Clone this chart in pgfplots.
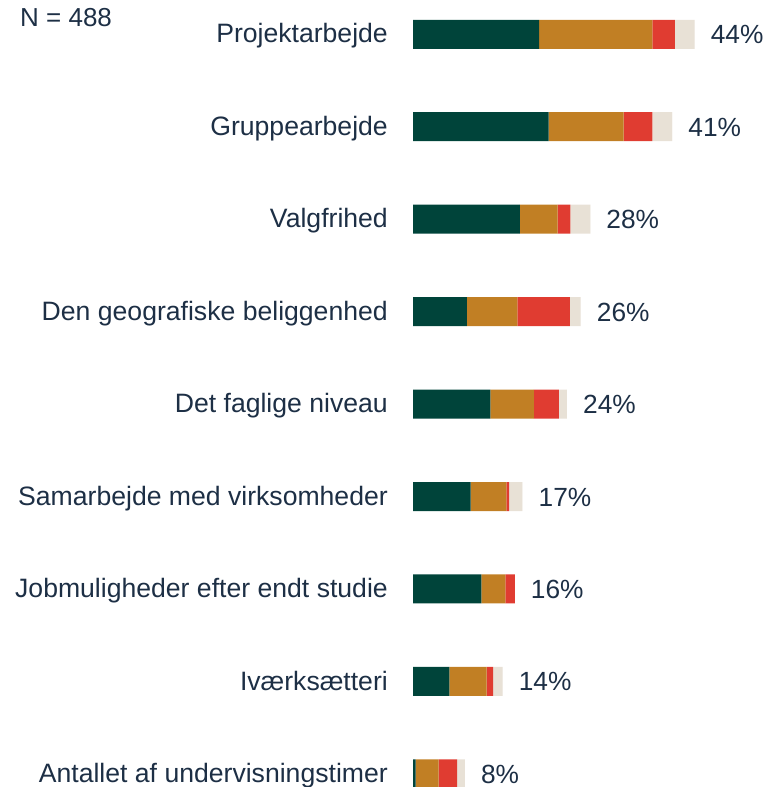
\documentclass[border=0pt]{standalone}
\usepackage{pgfplots}
\pgfplotsset{compat=1.18}
\usepackage{fontspec}
\setmainfont{Liberation Sans}
\definecolor{cgreen}{HTML}{00443A}
\definecolor{corange}{HTML}{C17F24}
\definecolor{cred}{HTML}{E03C31}
\definecolor{cbeige}{HTML}{E8E1D6}
\definecolor{ctext}{HTML}{1D2F45}
\begin{document}
\begin{tikzpicture}[x=1pt,y=1pt]
\path[use as bounding box] (0,0) rectangle (767,787);
\node[anchor=north west, inner sep=0pt, font=\fontsize{26}{31}\selectfont, text=ctext] at (20,778.5) {N = 488};
\begin{axis}[
  at={(413pt,0pt)}, anchor=south west,
  scale only axis, width=354pt, height=787pt,
  xmin=0, xmax=55.3125,
  ymin=-0.371, ymax=8.142,
  y dir=reverse,
  xbar stacked, bar width=29pt,
  axis line style={draw=none},
  major tick length=0pt,
  xtick=\empty,
  ytick={0,1,2,3,4,5,6,7,8},
  yticklabels={Projektarbejde,Gruppearbejde,Valgfrihed,Den geografiske beliggenhed,Det faglige niveau,Samarbejde med virksomheder,Jobmuligheder efter endt studie,Iværksætteri,Antallet af undervisningstimer},
  yticklabel style={font=\fontsize{26.6}{31}\selectfont, text=ctext, inner sep=0pt, anchor=base east, xshift=-25pt, yshift=-8.6pt},
  every axis plot/.append style={draw=none},
]
\addplot[fill=cgreen] coordinates {(19.7,0) (21.2,1) (16.7,2) (8.4,3) (12.1,4) (9.0,5) (10.7,6) (5.7,7) (0.4,8)};
\addplot[fill=corange] coordinates {(17.7,0) (11.7,1) (5.9,2) (7.9,3) (6.8,4) (5.6,5) (3.75,6) (5.8,7) (3.6,8)};
\addplot[fill=cred] coordinates {(3.5,0) (4.5,1) (2.0,2) (8.2,3) (3.9,4) (0.4,5) (1.45,6) (1.0,7) (2.9,8)};
\addplot[fill=cbeige] coordinates {(3.1,0) (3.1,1) (3.1,2) (1.7,3) (1.25,4) (2.1,5) (0,6) (1.5,7) (1.2,8)};
\addplot[fill=cbeige, draw=none, point meta=explicit symbolic,
  nodes near coords,
  nodes near coords align={anchor=base west},
  every node near coord/.style={anchor=base west, xshift=16pt, yshift=-9.5pt, inner sep=0pt, font=\fontsize{26.3}{31}\selectfont, text=ctext}]
  coordinates {(0.001,0) [44\%] (0.001,1) [41\%] (0.001,2) [28\%] (0.001,3) [26\%] (0.001,4) [24\%] (0.001,5) [17\%] (0.001,6) [16\%] (0.001,7) [14\%] (0.001,8) [8\%]};
\end{axis}
\end{tikzpicture}
\end{document}
